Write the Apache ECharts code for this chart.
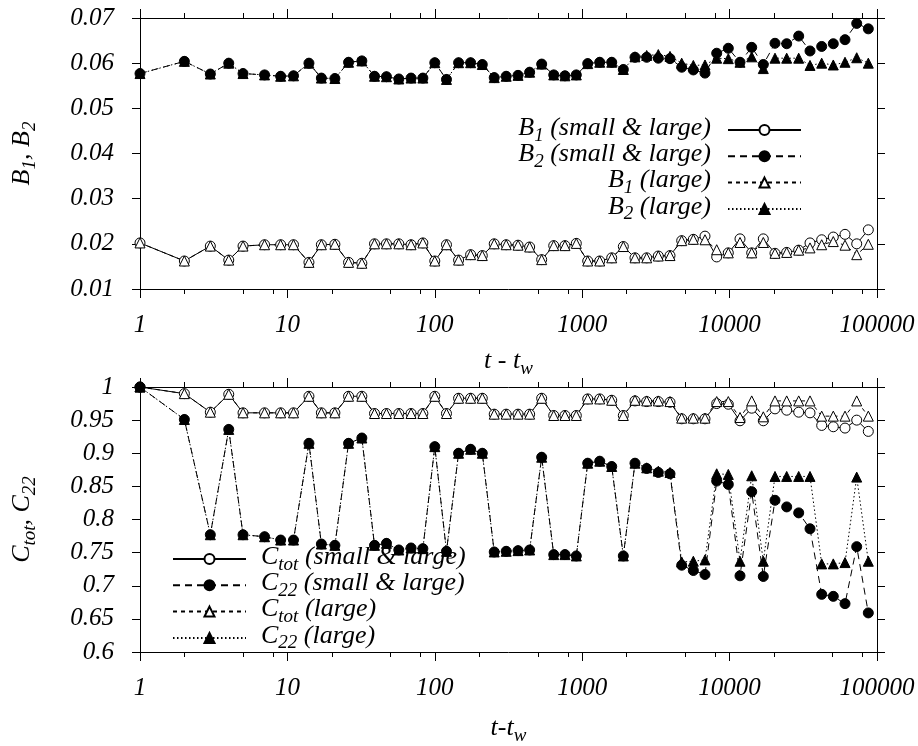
<!DOCTYPE html>
<html>
<head>
<meta charset="utf-8">
<script src="https://cdn.jsdelivr.net/npm/echarts@6/dist/echarts.min.js"></script>
<style>
  html, body { margin: 0; padding: 0; background: #fff; }
  #chart { width: 918px; height: 746px; }
</style>
</head>
<body>
<div id="chart"></div>
<script>
// waiting times t - t_w (shared by both panels)
const tw = [1, 2, 3, 4, 5, 7, 9, 11, 14, 17, 21, 26, 32, 39, 47, 57, 69, 83, 100, 120,
  145, 175, 210, 253, 305, 367, 440, 531, 641, 764, 912, 1090, 1315, 1586, 1901, 2281,
  2739, 3283, 3942, 4732, 5675, 6808, 8175, 9800, 11765, 14125, 16930, 20320, 24400,
  29430, 35120, 42150, 50520, 60670, 72840, 87300];

// upper panel: B1, B2
const b1All = [0.0202, 0.0162, 0.0195, 0.0164, 0.0195, 0.0198, 0.0198, 0.0198, 0.0159, 0.0198,
  0.0199, 0.0159, 0.0157, 0.0200, 0.0200, 0.0200, 0.0198, 0.0202, 0.0162, 0.0198,
  0.0164, 0.0176, 0.0174, 0.0200, 0.0198, 0.0197, 0.0193, 0.0165, 0.0196, 0.0196,
  0.0201, 0.0162, 0.0162, 0.0169, 0.0194, 0.0169, 0.0169, 0.0173, 0.0174, 0.0207,
  0.0210, 0.0217, 0.0171, 0.0180, 0.0211, 0.0180, 0.0211, 0.0179, 0.0181, 0.0186,
  0.0202, 0.0209, 0.0215, 0.0221, 0.0200, 0.0231];
const b2All = [0.0577, 0.0604, 0.0576, 0.0600, 0.0577, 0.0574, 0.0571, 0.0572, 0.0600, 0.0567,
  0.0566, 0.0602, 0.0605, 0.0571, 0.0570, 0.0565, 0.0567, 0.0567, 0.0601, 0.0564,
  0.0601, 0.0601, 0.0597, 0.0568, 0.0571, 0.0573, 0.0580, 0.0598, 0.0574, 0.0572,
  0.0574, 0.0599, 0.0602, 0.0602, 0.0586, 0.0613, 0.0613, 0.0611, 0.0610, 0.0591,
  0.0585, 0.0578, 0.0622, 0.0633, 0.0602, 0.0635, 0.0597, 0.0644, 0.0643, 0.0660,
  0.0627, 0.0637, 0.0643, 0.0652, 0.0688, 0.0676];
const b1Large = [0.0202, 0.0162, 0.0195, 0.0164, 0.0195, 0.0198, 0.0198, 0.0198, 0.0159, 0.0198,
  0.0199, 0.0159, 0.0157, 0.0200, 0.0200, 0.0200, 0.0198, 0.0202, 0.0162, 0.0198,
  0.0164, 0.0176, 0.0174, 0.0200, 0.0198, 0.0197, 0.0193, 0.0165, 0.0196, 0.0196,
  0.0201, 0.0162, 0.0162, 0.0169, 0.0194, 0.0169, 0.0169, 0.0173, 0.0174, 0.0207,
  0.0210, 0.0209, 0.0187, 0.0180, 0.0203, 0.0180, 0.0203, 0.0179, 0.0181, 0.0186,
  0.0191, 0.0198, 0.0205, 0.0197, 0.0176, 0.0199];
const b2Large = [0.0577, 0.0604, 0.0576, 0.0600, 0.0577, 0.0574, 0.0571, 0.0572, 0.0600, 0.0567,
  0.0566, 0.0602, 0.0605, 0.0571, 0.0570, 0.0565, 0.0567, 0.0567, 0.0601, 0.0564,
  0.0601, 0.0601, 0.0597, 0.0568, 0.0571, 0.0573, 0.0580, 0.0598, 0.0574, 0.0572,
  0.0574, 0.0599, 0.0602, 0.0602, 0.0586, 0.0614, 0.0617, 0.0619, 0.0615, 0.0600,
  0.0595, 0.0596, 0.0611, 0.0610, 0.0602, 0.0614, 0.0588, 0.0611, 0.0611, 0.0611,
  0.0595, 0.0600, 0.0596, 0.0602, 0.0612, 0.0600];

// lower panel: C_tot, C_22
const ctotAll = [1.000, 0.990, 0.962, 0.989, 0.961, 0.961, 0.961, 0.961, 0.986, 0.961,
  0.961, 0.986, 0.986, 0.960, 0.960, 0.960, 0.960, 0.960, 0.986, 0.960,
  0.983, 0.983, 0.983, 0.959, 0.959, 0.959, 0.959, 0.983, 0.957, 0.957,
  0.957, 0.982, 0.982, 0.980, 0.957, 0.979, 0.978, 0.978, 0.977, 0.952,
  0.952, 0.952, 0.975, 0.974, 0.949, 0.968, 0.949, 0.967, 0.965, 0.962,
  0.961, 0.942, 0.940, 0.938, 0.950, 0.933];
const c22All = [1.000, 0.951, 0.777, 0.936, 0.777, 0.774, 0.769, 0.769, 0.915, 0.763,
  0.761, 0.915, 0.923, 0.761, 0.764, 0.754, 0.757, 0.756, 0.910, 0.752,
  0.900, 0.906, 0.900, 0.751, 0.752, 0.753, 0.754, 0.894, 0.747, 0.747,
  0.745, 0.885, 0.888, 0.880, 0.745, 0.885, 0.877, 0.871, 0.869, 0.731,
  0.723, 0.717, 0.858, 0.853, 0.715, 0.842, 0.714, 0.829, 0.819, 0.810,
  0.786, 0.687, 0.684, 0.673, 0.759, 0.659];
const ctotLarge = [1.000, 0.990, 0.962, 0.989, 0.961, 0.961, 0.961, 0.961, 0.986, 0.961,
  0.961, 0.986, 0.986, 0.960, 0.960, 0.960, 0.960, 0.960, 0.986, 0.960,
  0.983, 0.983, 0.983, 0.959, 0.959, 0.959, 0.959, 0.983, 0.957, 0.957,
  0.957, 0.982, 0.982, 0.980, 0.957, 0.980, 0.979, 0.979, 0.978, 0.953,
  0.953, 0.953, 0.978, 0.978, 0.954, 0.979, 0.955, 0.979, 0.979, 0.979,
  0.979, 0.956, 0.956, 0.956, 0.979, 0.956];
const c22Large = [1.000, 0.951, 0.777, 0.936, 0.777, 0.774, 0.769, 0.769, 0.915, 0.763,
  0.761, 0.915, 0.923, 0.761, 0.764, 0.754, 0.757, 0.756, 0.910, 0.752,
  0.900, 0.906, 0.900, 0.751, 0.752, 0.753, 0.754, 0.894, 0.747, 0.747,
  0.745, 0.885, 0.888, 0.880, 0.745, 0.885, 0.878, 0.873, 0.871, 0.736,
  0.737, 0.739, 0.869, 0.868, 0.737, 0.866, 0.737, 0.865, 0.865, 0.865,
  0.865, 0.733, 0.733, 0.735, 0.864, 0.737];

// axis ticks
const xMin = 1, xMax = 100000;
const xMinorTicks = [2, 5, 8, 20, 50, 80, 200, 500, 800, 2000, 5000, 8000, 20000, 50000, 80000];
const bRange = { min: 0.01, max: 0.07, step: 0.01 };
const cRange = { min: 0.6, max: 1.0, step: 0.05 };

const FONT = 'Liberation Serif';
// main text sits at the top of a 30px line, subscripts hang at its bottom
const rich = {
  m: { fontFamily: FONT, fontStyle: 'italic', fontSize: 26, lineHeight: 30, verticalAlign: 'top', color: '#000' },
  s: { fontFamily: FONT, fontStyle: 'italic', fontSize: 19, lineHeight: 10, verticalAlign: 'bottom', color: '#000' }
};
const labelFont = { fontFamily: FONT, fontStyle: 'italic', fontSize: 25, color: '#000' };

const legendText = {
  'B1 (small & large)': '{m|B}{s|1}{m| (small & large)}',
  'B2 (small & large)': '{m|B}{s|2}{m| (small & large)}',
  'B1 (large)': '{m|B}{s|1}{m| (large)}',
  'B2 (large)': '{m|B}{s|2}{m| (large)}',
  'Ctot (small & large)': '{m|C}{s|tot}{m| (small & large)}',
  'C22 (small & large)': '{m|C}{s|22}{m| (small & large)}',
  'Ctot (large)': '{m|C}{s|tot}{m| (large)}',
  'C22 (large)': '{m|C}{s|22}{m| (large)}'
};

const black = '#000';
const line = { color: black, width: 1 };

function pairs(ys) { return tw.map((t, i) => [t, ys[i]]); }

function xAxes(grid, nameRich, nameGap, labelMargin) {
  const base = {
    type: 'log', logBase: 10, min: xMin, max: xMax, gridIndex: grid,
    splitLine: { show: false }, minorTick: { show: false }
  };
  return [
    Object.assign({}, base, {
      position: 'bottom',
      axisLine: { show: true, lineStyle: line },
      axisTick: { show: true, inside: false, length: 9, lineStyle: line },
      axisLabel: Object.assign({ margin: labelMargin, formatter: v => String(Math.round(v)) }, labelFont),
      name: nameRich, nameLocation: 'middle', nameGap: nameGap,
      nameTextStyle: { rich: rich }
    }),
    Object.assign({}, base, {
      position: 'bottom',
      axisLine: { show: false },
      axisTick: { show: true, inside: false, length: 5, lineStyle: line, customValues: xMinorTicks },
      axisLabel: { show: false }
    }),
    Object.assign({}, base, {
      position: 'top',
      axisLine: { show: true, lineStyle: line },
      axisTick: { show: true, inside: false, length: 9, lineStyle: line },
      axisLabel: { show: false }
    }),
    Object.assign({}, base, {
      position: 'top',
      axisLine: { show: false },
      axisTick: { show: true, inside: false, length: 5, lineStyle: line, customValues: xMinorTicks },
      axisLabel: { show: false }
    })
  ];
}

function yAxes(grid, range, nameRich, fmt) {
  const base = {
    type: 'value', gridIndex: grid, min: range.min, max: range.max, interval: range.step,
    splitLine: { show: false },
    axisLine: { show: true, lineStyle: line },
    axisTick: { show: true, inside: false, length: 8, lineStyle: line }
  };
  return [
    Object.assign({}, base, {
      position: 'left',
      axisLabel: Object.assign({ margin: 26, formatter: fmt }, labelFont),
      name: nameRich, nameLocation: 'middle', nameRotate: 90, nameGap: 101,
      nameTextStyle: { rich: rich }
    }),
    Object.assign({}, base, { position: 'right', axisLabel: { show: false } })
  ];
}

function series(name, ys, xi, yi, symbol, filled, dash) {
  return {
    name: name, type: 'line', xAxisIndex: xi, yAxisIndex: yi,
    data: pairs(ys), clip: false,
    symbol: symbol, symbolSize: 10, showAllSymbol: true,
    itemStyle: { color: filled ? black : '#fff', borderColor: black, borderWidth: 1 },
    lineStyle: { color: black, width: 1, type: dash },
    emphasis: { disabled: true },
    animation: false
  };
}

const legendBase = {
  orient: 'vertical', itemWidth: 73, itemHeight: 12.5, selectedMode: false,
  formatter: n => legendText[n]
};

const option = {
  animation: false,
  backgroundColor: '#fff',
  grid: [
    { left: 140, right: 41, top: 18, height: 271 },
    { left: 140, right: 41, top: 387, height: 270 }
  ],
  xAxis: [].concat(
    xAxes(0, '{m|t - t}{s|w}', 59, 24),
    xAxes(1, '{m|t-t}{s|w}', 63, 24)
  ),
  yAxis: [].concat(
    yAxes(0, bRange, '{m|B}{s|1}{m|, B}{s|2}', v => v.toFixed(2)),
    yAxes(1, cRange, '{m|C}{s|tot}{m|, C}{s|22}', v => String(+v.toFixed(2)))
  ),
  legend: [
    Object.assign({}, legendBase, {
      data: ['B1 (small & large)', 'B2 (small & large)', 'B1 (large)', 'B2 (large)'],
      align: 'right', right: 111, top: 110, itemGap: -3.7,
      textStyle: { rich: rich, padding: [0, 12, 0, 0] }
    }),
    Object.assign({}, legendBase, {
      data: ['Ctot (small & large)', 'C22 (small & large)', 'Ctot (large)', 'C22 (large)'],
      align: 'left', left: 167, top: 539, itemGap: -3.7,
      textStyle: { rich: rich, padding: [0, 0, 0, 10] }
    })
  ],
  series: [
    series('B1 (small & large)', b1All, 0, 0, 'circle', false, 'solid'),
    series('B2 (small & large)', b2All, 0, 0, 'circle', true, [7, 5]),
    series('B1 (large)', b1Large, 0, 0, 'triangle', false, [4, 4]),
    series('B2 (large)', b2Large, 0, 0, 'triangle', true, [1.5, 2.5]),
    series('Ctot (small & large)', ctotAll, 4, 2, 'circle', false, 'solid'),
    series('C22 (small & large)', c22All, 4, 2, 'circle', true, [7, 5]),
    series('Ctot (large)', ctotLarge, 4, 2, 'triangle', false, [4, 4]),
    series('C22 (large)', c22Large, 4, 2, 'triangle', true, [1.5, 2.5])
  ]
};

const chart = echarts.init(document.getElementById('chart'));
chart.setOption(option);
</script>
</body>
</html>
